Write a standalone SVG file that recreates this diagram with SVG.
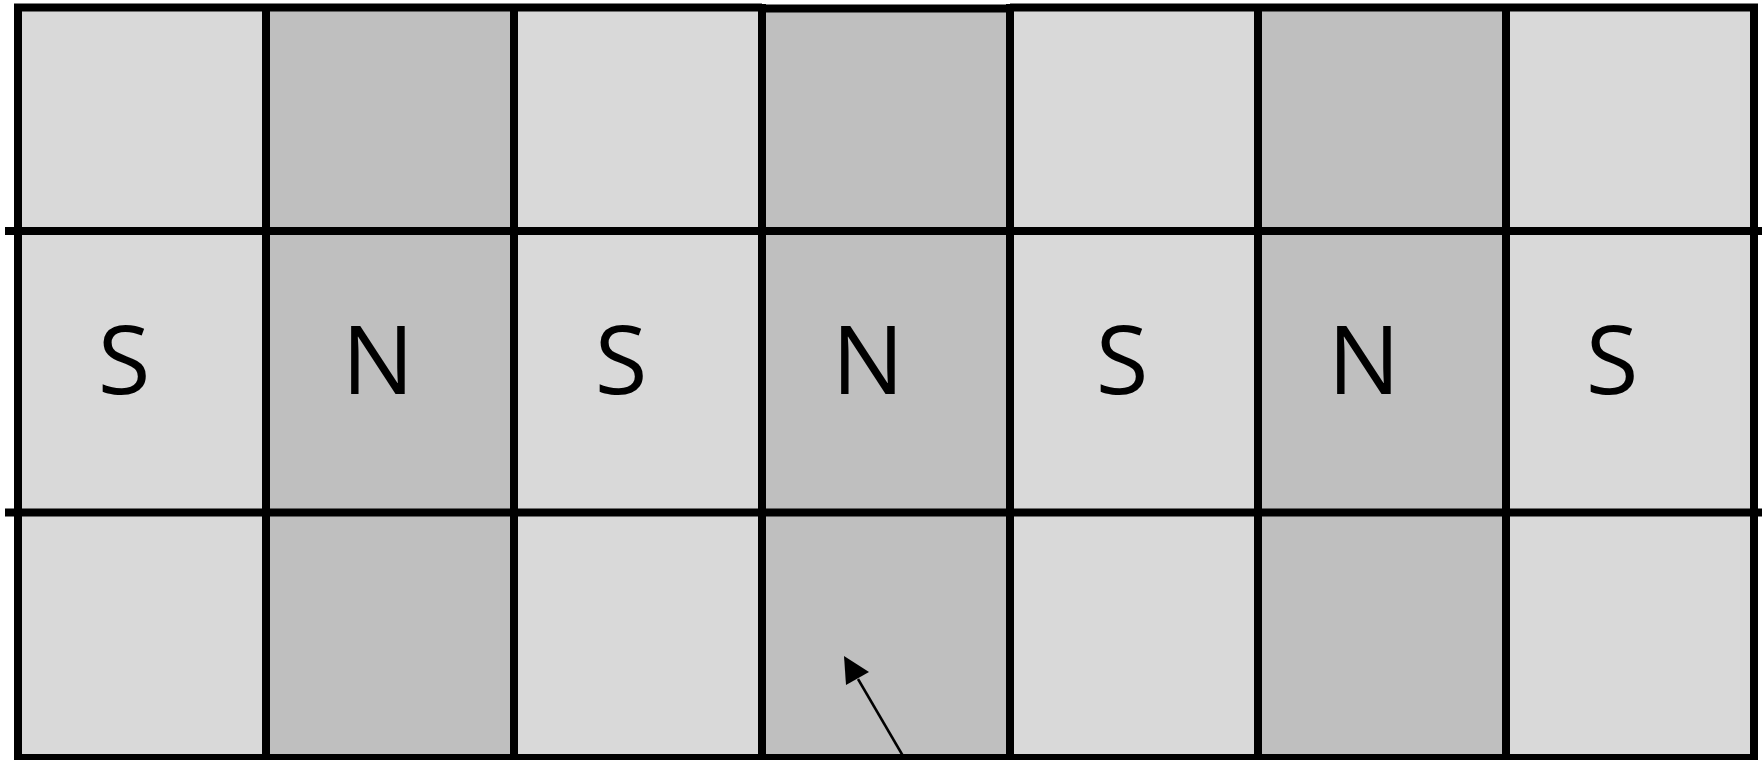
<svg xmlns="http://www.w3.org/2000/svg" width="1762" height="760" viewBox="0 0 1762 760">
<style>
.l{fill:#d9d9d9}
.d{fill:#bfbfbf}
.g{stroke:#000;stroke-width:8;fill:none}
.t{font-family:"Open Sans","Noto Sans",sans-serif;font-size:96px;font-weight:500;fill:#000;text-anchor:middle}
.a{stroke:#000;stroke-width:2.5;fill:none}
</style>
<rect width="1762" height="760" fill="#fff"/>
<g id="cells">
<g id="col1"><rect class="l" x="18" y="8" width="248" height="750"/><text class="t" x="124" y="394">S</text></g>
<g id="col2"><rect class="d" x="266" y="8" width="248" height="750"/><text class="t" x="378" y="394">N</text></g>
<g id="col3"><rect class="l" x="514" y="8" width="248" height="750"/><text class="t" x="621" y="394">S</text></g>
<g id="col4"><rect class="d" x="762" y="8" width="248" height="750"/><text class="t" x="868" y="394">N</text></g>
<g id="col5"><rect class="l" x="1010" y="8" width="248" height="750"/><text class="t" x="1122" y="394">S</text></g>
<g id="col6"><rect class="d" x="1258" y="8" width="248" height="750"/><text class="t" x="1364" y="394">N</text></g>
<g id="col7"><rect class="l" x="1506" y="8" width="248" height="750"/><text class="t" x="1612" y="394">S</text></g>
</g>
<g id="grid" class="g">
<path d="M14,7.5 H762 M762,8.5 H1010 M1010,7.5 H1758"/>
<path d="M5,231 H1762 M5,512.5 H1762 M14,758 H1758"/>
<path d="M18,4 V760 M266,4 V760 M514,4 V760 M762,4 V760 M1010,4 V760 M1258,4 V760 M1506,4 V760 M1754,4 V760"/>
</g>
<g id="connectors">
<path class="a" d="M903,756 L858,679"/>
<polygon points="844,656 869,672 846,685" fill="#000"/>
</g>
</svg>
